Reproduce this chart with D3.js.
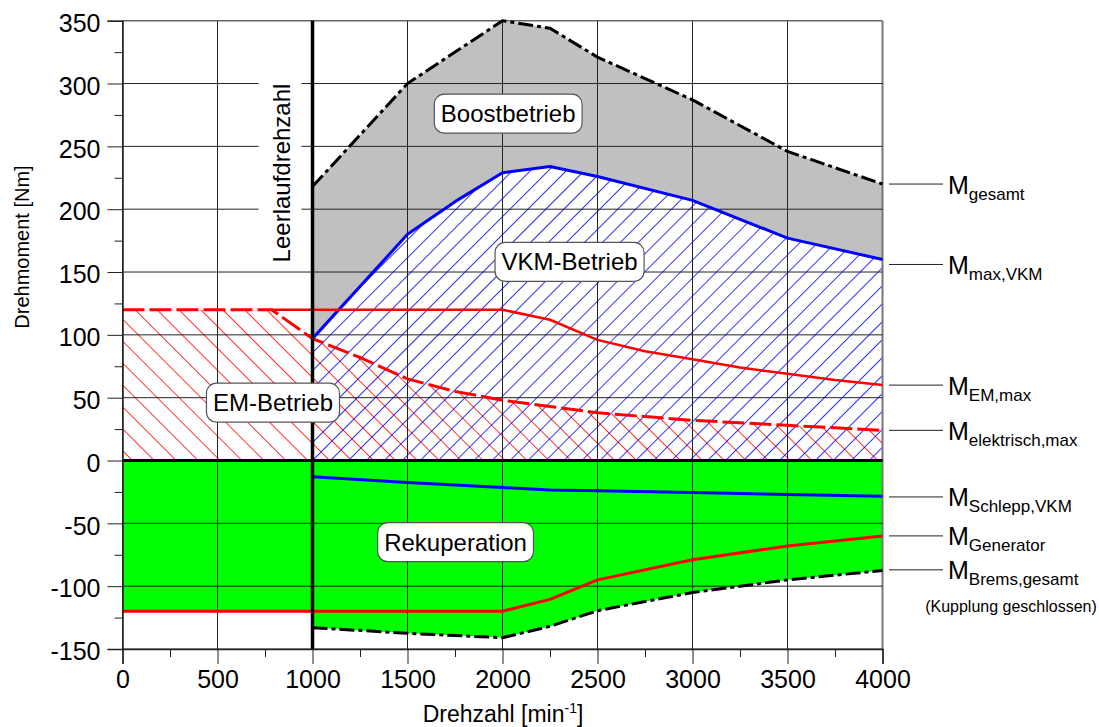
<!DOCTYPE html>
<html>
<head>
<meta charset="utf-8">
<script src="https://cdn.jsdelivr.net/npm/d3@7"></script>
<style>
  body { margin: 0; background: #fff; }
  text { font-family: Arial, "Liberation Sans", sans-serif; fill: #000; }
</style>
</head>
<body>
<script>
// Kennlinien (Drehzahl in min-1, Moment in Nm)
const rpmGesamt = [1000, 1500, 2000, 2250, 2500, 3000, 3500, 4000];
const mGesamt   = [218, 300, 350, 344, 321, 287, 246, 220];

const rpmVKM = [1000, 1500, 1750, 2000, 2250, 2500, 3000, 3500, 4000];
const mMaxVKM = [97, 180, 206, 229, 234, 226, 207, 177, 160];

const rpmEM = [785, 1000, 1500, 2000, 2250, 2500, 2750, 3000, 3250, 3500, 3750, 4000];
const mEMmax = [120, 120, 120, 120, 112, 96, 87, 80.5, 74, 69, 64, 60];

const rpmElek = [0, 785, 1000, 1250, 1500, 1750, 2000, 2250, 2500, 3000, 3500, 4000];
const mElekMax = [120, 120, 97, 82, 65, 55, 48, 43, 38, 32, 28, 24];

const rpmSchlepp = [1000, 1500, 2000, 2250, 2500, 3000, 3500, 4000];
const mSchlepp   = [-13, -17.5, -21.5, -23.5, -24, -25.5, -27, -28.5];

const rpmGen = [0, 1000, 1500, 2000, 2250, 2500, 3000, 3500, 4000];
const mGen   = [-120, -120, -120, -120, -110.5, -95, -79, -68, -60];

const rpmBrems = [1000, 1500, 2000, 2250, 2500, 3000, 3500, 4000];
const mBrems   = [-133, -137.5, -141, -132, -119.5, -105, -95, -87.5];

const xTicks = [0, 500, 1000, 1500, 2000, 2500, 3000, 3500, 4000];
const yTicks = [-150, -100, -50, 0, 50, 100, 150, 200, 250, 300, 350];

const areaLabels = ["Boostbetrieb", "VKM-Betrieb", "EM-Betrieb", "Rekuperation"];
const areaLabelAt = [[2030, 276], [2353, 158], [792, 46], [1753, -65]];

const curveSubs = ["gesamt", "max,VKM", "EM,max", "elektrisch,max", "Schlepp,VKM", "Generator", "Brems,gesamt"];
const curveEnds = [220, 156, 60, 24, -29, -60, -87];

const zip = (xs, ys) => xs.map((d, i) => [d, ys[i]]);

const W = 1099, H = 727;
const svg = d3.select("body").append("svg").attr("width", W).attr("height", H);

const x = d3.scaleLinear().domain([0, 4000]).range([122.5, 882.5]);
const y = d3.scaleLinear().domain([-150, 350]).range([649, 20.7]);

const line = d3.line().x(d => x(d[0])).y(d => y(d[1]));

// Schraffuren
const defs = svg.append("defs");
function hatch(id, size, angle, color) {
  const p = defs.append("pattern")
    .attr("id", id)
    .attr("patternUnits", "userSpaceOnUse")
    .attr("width", size).attr("height", size)
    .attr("patternTransform", `rotate(${angle})`);
  p.append("line")
    .attr("x1", 0).attr("y1", -1).attr("x2", 0).attr("y2", size + 1)
    .attr("stroke", color).attr("stroke-width", 1.6);
}
hatch("hBlue", 12.7, 45, "#0000ff");
hatch("hRed", 15.5, -45, "#ff0000");

// Boost-Bereich (grau)
const boostPoly = zip(rpmGesamt, mGesamt).concat(zip(rpmVKM, mMaxVKM).reverse());
svg.append("path").attr("d", line(boostPoly) + "Z").attr("fill", "#c0c0c0");

// Rekuperation (gruen)
const recPoly = [[0, 0], [4000, 0]]
  .concat(zip(rpmBrems, mBrems).reverse())
  .concat([[1000, mGen[1]], [0, mGen[0]]]);
svg.append("path").attr("d", line(recPoly) + "Z").attr("fill", "#00ff00");

// EM-Bereich (rot schraffiert)
const emPoly = zip(rpmElek, mElekMax).concat([[4000, 0], [0, 0]]);
svg.append("path").attr("d", line(emPoly) + "Z").attr("fill", "url(#hRed)");

// VKM-Bereich (blau schraffiert)
const vkmPoly = zip(rpmVKM, mMaxVKM).concat([[4000, 0], [1000, 0]]);
svg.append("path").attr("d", line(vkmPoly) + "Z").attr("fill", "url(#hBlue)");

// Gitter
const grid = svg.append("g");
grid.selectAll(".gx").data(xTicks).join("line")
  .attr("x1", d => x(d)).attr("x2", d => x(d))
  .attr("y1", y(350)).attr("y2", y(-150))
  .attr("stroke", d => d === 4000 ? "#777" : "#222")
  .attr("stroke-width", d => d === 4000 ? 2 : 1);
grid.selectAll(".gy").data(yTicks).join("line")
  .attr("x1", x(0)).attr("x2", x(4000))
  .attr("y1", d => y(d)).attr("y2", d => y(d))
  .attr("stroke", d => d === 350 ? "#666" : "#222")
  .attr("stroke-width", d => d === 350 ? 1.5 : 1);

// Kurven
function curve(data, color, width, dash) {
  svg.append("path").attr("d", line(data))
    .attr("fill", "none").attr("stroke", color)
    .attr("stroke-width", width)
    .attr("stroke-dasharray", dash || null)
    .attr("stroke-linejoin", "round");
}
curve(zip(rpmGesamt, mGesamt), "#000", 3, "15,4,4,4");
curve(zip(rpmVKM, mMaxVKM), "#0000ff", 3);
curve(zip(rpmElek, mElekMax), "#ff0000", 3, "22,5");
curve(zip(rpmEM, mEMmax), "#ff0000", 2.5);
curve(zip(rpmSchlepp, mSchlepp), "#0000ff", 3);
curve(zip(rpmGen, mGen), "#ff0000", 3);
curve(zip(rpmBrems, mBrems), "#000", 3, "15,4,4,4");

// Nulllinie und Leerlaufdrehzahl
svg.append("line")
  .attr("x1", x(0)).attr("x2", x(4000)).attr("y1", y(0)).attr("y2", y(0))
  .attr("stroke", "#000").attr("stroke-width", 3);

const idleX = x(1000);
svg.append("rect")
  .attr("x", idleX - 54).attr("y", 78).attr("width", 43).attr("height", 190)
  .attr("fill", "#fff");
svg.append("text")
  .attr("transform", `translate(${idleX - 23},${173}) rotate(-90)`)
  .attr("text-anchor", "middle")
  .style("font-size", "24px")
  .text("Leerlaufdrehzahl");
svg.append("line")
  .attr("x1", idleX).attr("x2", idleX).attr("y1", y(350)).attr("y2", y(-150))
  .attr("stroke", "#000").attr("stroke-width", 3.5);

// Achsen
const plain = d => String(d);
const yAxis = svg.append("g")
  .attr("transform", `translate(${x(0)},0)`)
  .call(d3.axisLeft(y).tickValues(yTicks).tickFormat(plain).tickSize(15).tickPadding(7));
yAxis.select(".domain").attr("stroke", "#222").attr("stroke-width", 1.5);
yAxis.selectAll(".tick line").attr("stroke", "#222");
yAxis.selectAll("text").style("font-size", "25px").attr("dy", "0.43em");
svg.append("g")
  .attr("transform", `translate(${x(0)},0)`)
  .call(d3.axisLeft(y).tickValues(d3.range(-125, 350, 50)).tickSize(8).tickFormat(""))
  .call(g => g.select(".domain").remove())
  .selectAll("line").attr("stroke", "#222");

const xAxis = svg.append("g")
  .attr("transform", `translate(0,${y(-150)})`)
  .call(d3.axisBottom(x).tickValues(xTicks).tickFormat(plain).tickSize(15).tickPadding(6));
xAxis.select(".domain").attr("stroke", "#222").attr("stroke-width", 1.5);
xAxis.selectAll(".tick line").attr("stroke", "#222");
xAxis.selectAll("text").style("font-size", "25px");
svg.append("g")
  .attr("transform", `translate(0,${y(-150)})`)
  .call(d3.axisBottom(x).tickValues(d3.range(250, 4000, 500)).tickSize(8).tickFormat(""))
  .call(g => g.select(".domain").remove())
  .selectAll("line").attr("stroke", "#222");

// Achsentitel
svg.append("text")
  .attr("transform", "translate(29,247) rotate(-90)")
  .attr("text-anchor", "middle")
  .style("font-size", "20px")
  .text("Drehmoment [Nm]");

const xt = svg.append("text")
  .attr("x", 503).attr("y", 722)
  .attr("text-anchor", "middle")
  .style("font-size", "23px");
xt.append("tspan").text("Drehzahl [min");
xt.append("tspan").attr("dy", -9).style("font-size", "14px").text("-1");
xt.append("tspan").attr("dy", 9).text("]");

// Bereichsbeschriftungen
areaLabels.forEach((txt, i) => {
  const cx = x(areaLabelAt[i][0]), cy = y(areaLabelAt[i][1]);
  const g = svg.append("g");
  const t = g.append("text")
    .attr("x", cx).attr("y", cy + 8.5)
    .attr("text-anchor", "middle")
    .style("font-size", "24px")
    .text(txt);
  const w = t.node().getComputedTextLength() + 13;
  g.insert("rect", "text")
    .attr("x", cx - w / 2).attr("y", cy - 19.5)
    .attr("width", w).attr("height", 39)
    .attr("rx", 10).attr("ry", 10)
    .attr("fill", "#fff").attr("stroke", "#555").attr("stroke-width", 1.2);
});

// Kurvenbeschriftungen rechts
curveSubs.forEach((sub, i) => {
  const ly = y(curveEnds[i]);
  svg.append("line")
    .attr("x1", 889).attr("x2", 943).attr("y1", ly).attr("y2", ly)
    .attr("stroke", "#222").attr("stroke-width", 1);
  const t = svg.append("text").attr("x", 948).attr("y", ly + 9.5)
    .style("font-size", "25px");
  t.append("tspan").text("M");
  t.append("tspan").attr("dy", 6).style("font-size", "17px").text(sub);
});
svg.append("text")
  .attr("x", 1011).attr("y", 612)
  .attr("text-anchor", "middle")
  .style("font-size", "16px")
  .text("(Kupplung geschlossen)");
</script>
</body>
</html>
